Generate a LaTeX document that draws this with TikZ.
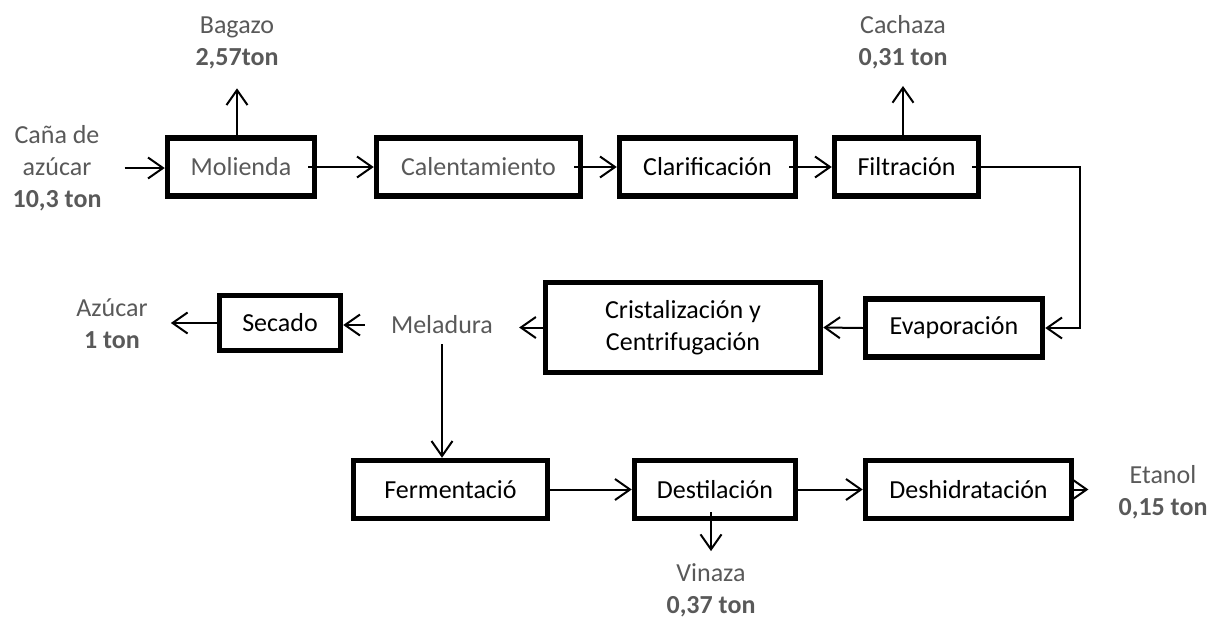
\documentclass[tikz,border=0pt]{standalone}
\usepackage{fontspec}
\setmainfont{Carlito}
\usetikzlibrary{arrows.meta}
\definecolor{txtgrey}{HTML}{595959}
\begin{document}
\begin{tikzpicture}[x=1pt,y=-1pt,
  every node/.style={font=\fontsize{26}{32}\selectfont},
  proc/.style={draw=black, line width=5.5pt, inner sep=0pt, align=center, minimum height=58pt},
  lbl/.style={text=txtgrey, align=center, inner sep=0pt},
  flow/.style={line width=2pt, -{Straight Barb[length=15pt,width=21pt]}},
  inside/.style={shorten <=-9pt}]
\useasboundingbox (0,0) rectangle (1218,619);

% process boxes, top row
\node[proc, text=txtgrey, minimum width=147pt] (mol) at (241,167) {Molienda};
\node[proc, text=txtgrey, minimum width=204pt] (cal) at (478.5,167) {Calentamiento};
\node[proc, minimum width=176pt] (cla) at (707.5,167) {Clarificación};
\node[proc, minimum width=144pt] (fil) at (906.5,167) {Filtración};

% middle row
\node[proc, minimum width=177pt] (eva) at (954,328) {Evaporación};
\node[proc, minimum width=275pt, minimum height=90pt] (cri) at (683,327.5) {Cristalización y\\Centrifugación};
\node[lbl, inner xsep=26pt, inner ysep=10pt] (mel) at (442,325) {Meladura};
\node[proc, minimum width=121pt, minimum height=55pt] (sec) at (280,323) {Secado};

% bottom row
\node[proc, minimum width=194pt] (fer) at (450.5,489.5) {Fermentació};
\node[proc, minimum width=161pt] (des) at (715,489.5) {Destilación};
\node[proc, minimum width=206pt] (deh) at (968.5,489.5) {Deshidratación};

% inputs and outputs
\node[lbl, inner xsep=23pt] (cana) at (57,168) {Caña de\\azúcar\\\textbf{10,3 ton}};
\node[lbl, inner ysep=19pt] (bag) at (237,43) {Bagazo\\\textbf{2,57ton}};
\node[lbl, inner ysep=17pt] (cac) at (903,42) {Cachaza\\\textbf{0,31 ton}};
\node[lbl, inner xsep=23pt] (azu) at (112,324) {Azúcar\\\textbf{1 ton}};
\node[lbl, inner ysep=12pt] (vin) at (711,590) {Vinaza\\\textbf{0,37 ton}};
\node[lbl, inner xsep=30pt] (eta) at (1163,492) {Etanol\\\textbf{0,15 ton}};

\coordinate (rx) at (1080,0);

% connectors
\draw[flow] (cana.east) -- (cana.east -| mol.west);
\draw[flow] (bag.south |- mol.north) -- (bag.south);
\draw[flow, inside] (mol.east) -- (cal.west);
\draw[flow, inside] (cal.east) -- (cla.west);
\draw[flow, inside] (cla.east) -- (fil.west);
\draw[flow] (cac.south |- fil.north) -- (cac.south);
\draw[flow, inside] (fil.east) -| (rx |- eva.east) -- (eva.east);
\draw[flow] (eva.west) -- (cri.east);
\draw[flow] (cri.west) -- (cri.west -| mel.east);
\draw[flow] (mel.west) -- (mel.west -| sec.east);
\draw[flow] (sec.west) -- (sec.west -| azu.east);
\draw[flow] (mel.south) -- (mel.south |- fer.north);
\draw[flow] (fer.east) -- (des.west);
\draw[flow] (des.east) -- (deh.west);
\draw[flow, shorten <=-9pt] (vin.north |- des.south) -- (vin.north);
\draw[flow] (deh.east) -- (deh.east -| eta.west);
\end{tikzpicture}
\end{document}
